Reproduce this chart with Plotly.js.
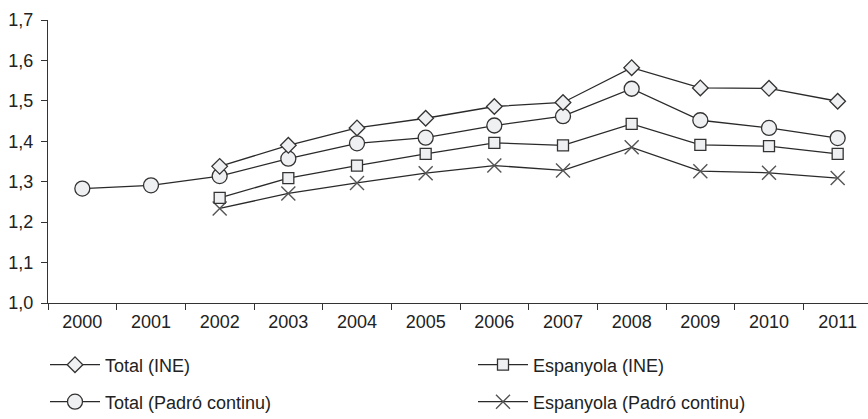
<!DOCTYPE html>
<html>
<head>
<meta charset="utf-8">
<script src="https://cdn.plot.ly/plotly-3.0.1.min.js"></script>
<style>html,body{margin:0;padding:0;overflow:hidden;background:#fff}#chart{width:872px;height:419px}</style>
</head>
<body>
<div id="chart"></div>
<script>
const years = ['2000','2001','2002','2003','2004','2005','2006','2007','2008','2009','2010','2011'];
const totalINE       = [null, null, 1.338, 1.390, 1.433, 1.457, 1.486, 1.496, 1.582, 1.532, 1.531, 1.499];
const totalPadro     = [1.283, 1.291, 1.314, 1.357, 1.395, 1.409, 1.439, 1.462, 1.530, 1.452, 1.433, 1.408];
const espanyolaINE   = [null, null, 1.260, 1.309, 1.340, 1.369, 1.396, 1.390, 1.443, 1.391, 1.388, 1.369];
const espanyolaPadro = [null, null, 1.234, 1.271, 1.297, 1.321, 1.340, 1.328, 1.385, 1.326, 1.322, 1.309];
const names = ['Total (INE)', 'Espanyola (INE)', 'Total (Padró continu)', 'Espanyola (Padró continu)'];
const yTicks = [1.0, 1.1, 1.2, 1.3, 1.4, 1.5, 1.6, 1.7];

const fillC = '#eff0f2', edgeC = '#333333', lineC = '#2a2a2a';
const FONT = 'Liberation Sans, Arial, Helvetica, sans-serif';
function tr(y, name, sym, size, legend, extra) {
  return Object.assign({
    type: 'scatter', mode: 'lines+markers', x: years, y: y, name: name,
    legend: legend, connectgaps: false, cliponaxis: false,
    line: {color: lineC, width: 1.3},
    marker: {symbol: sym, size: size, color: fillC, line: {color: edgeC, width: 1.3}}
  }, extra || {});
}
const data = [
  tr(espanyolaPadro, names[3], 'x-thin-open', 14, 'legend4',
     {marker: {symbol: 'x-thin-open', size: 14, color: '#555', line: {color: '#555', width: 1.4}}}),
  tr(espanyolaINE, names[1], 'square', 11, 'legend2'),
  tr(totalPadro, names[2], 'circle', 15, 'legend3'),
  tr(totalINE, names[0], 'diamond', 12, 'legend')
];

const W = 872, H = 419;
function leg(px, py) {
  return {xref: 'container', yref: 'container', x: px / W, y: 1 - py / H,
          xanchor: 'left', yanchor: 'middle', bgcolor: 'rgba(0,0,0,0)',
          font: {family: FONT, size: 18, color: '#222'},
          itemwidth: 50, itemsizing: 'trace'};
}
const layout = {
  width: W, height: H,
  margin: {l: 48, r: 0, t: 20, b: 116, autoexpand: false},
  paper_bgcolor: '#fff', plot_bgcolor: '#fff',
  separators: ',.',
  font: {family: FONT, size: 18, color: '#222'},
  showlegend: true,
  xaxis: {
    type: 'category', categoryarray: years, categoryorder: 'array',
    range: [-0.5, 11.5], tickson: 'boundaries', ticks: 'outside', ticklen: 6,
    tickcolor: '#333', tickwidth: 1, showline: true, linecolor: '#333', linewidth: 1,
    showgrid: false, zeroline: false, fixedrange: true, tickangle: 0, automargin: false,
    ticklabelstandoff: 2,
    tickfont: {family: FONT, size: 18, color: '#222'}
  },
  yaxis: {
    range: [1.0, 1.7], tickvals: yTicks, tickformat: '.1f', ticks: 'outside', ticklen: 6,
    tickcolor: '#333', tickwidth: 1, showline: true, linecolor: '#333', linewidth: 1,
    showgrid: false, zeroline: false, fixedrange: true, automargin: false,
    ticklabelstandoff: 4,
    tickfont: {family: FONT, size: 18, color: '#222'}
  },
  legend: leg(45, 365),
  legend2: leg(473, 365),
  legend3: leg(45, 402),
  legend4: leg(473, 402)
};
Plotly.newPlot('chart', data, layout, {displayModeBar: false, staticPlot: true});
</script>
</body>
</html>
